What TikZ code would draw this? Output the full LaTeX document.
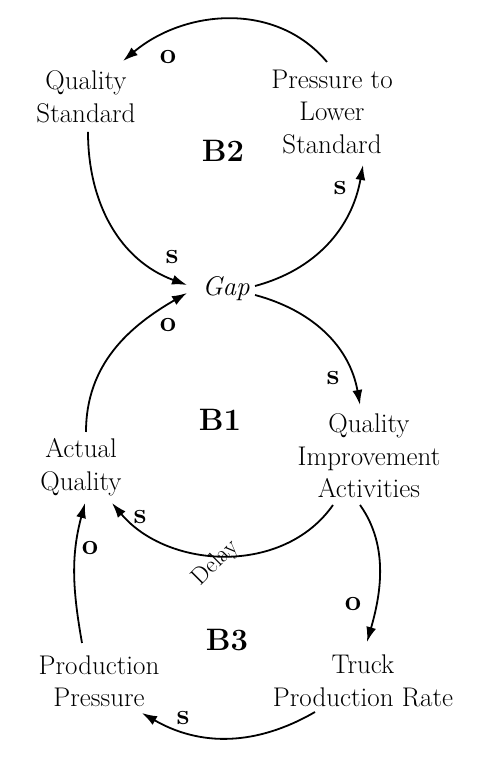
\documentclass[tikz,border=0pt]{standalone}
\usetikzlibrary{arrows.meta}
\begin{document}
\begin{tikzpicture}[x=1pt,y=1pt,
  var/.style={align=center,inner sep=0pt,font=\fontsize{27}{32.5}\selectfont},
  pol/.style={inner sep=0pt,font=\fontsize{29}{30}\selectfont\bfseries},
  loopname/.style={inner sep=0pt,font=\fontsize{31}{32}\selectfont\bfseries},
  link/.style={line width=1.8pt,-{Latex[length=15pt,width=10pt]}}]
\useasboundingbox (0,0) rectangle (496,762);
% variables
\node[var] (qs)  at (86,665)  {Quality\\Standard};
\node[var] (plw) at (332,650) {Pressure to\\Lower\\Standard};
\node[var] (gap) at (226,473) {\itshape Gap};
\node[var] (aq)  at (81,295)  {Actual\\Quality};
\node[var] (qia) at (369,306) {Quality\\Improvement\\Activities};
\node[var] (pp)  at (99,81)   {Production\\Pressure};
\node[var] (tpr) at (363,81)  {Truck\\Production Rate};
% loop names
\node[loopname] (b2) at (223,611) {B2};
\node[loopname] (b1) at (220,342) {B1};
\node[loopname] (b3) at (227,122) {B3};
% links
\draw[link] ([shift={(-5,50)}]plw.center) to[out=130,in=40] ([shift={(37,36)}]qs.center);
\draw[link] ([shift={(2,-35)}]qs.center) to[out=-90,in=160] ([shift={(-39,4)}]gap.center);
\draw[link] ([shift={(29,3)}]gap.center) to[out=15,in=-100] ([shift={(31,-53)}]plw.center);
\draw[link] ([shift={(29,-6)}]gap.center) to[out=-15,in=100] ([shift={(-9,51)}]qia.center);
\draw[link] ([shift={(5,35)}]aq.center) to[out=90,in=-150] ([shift={(-39,-4)}]gap.center);
\draw[link] ([shift={(-36,-49)}]qia.center) to[out=-125,in=-50] ([shift={(31,-36)}]aq.center);
\draw[link] ([shift={(-17,38)}]pp.center) to[out=100,in=-105] ([shift={(4,-36)}]aq.center);
\draw[link] ([shift={(-9,-49)}]qia.center) .. controls +(30,-42) and +(13,45) .. ([shift={(4,39)}]tpr.center);
\draw[link] ([shift={(-48,-31)}]tpr.center) to[out=-150,in=-30] ([shift={(43,-32)}]pp.center);
% polarities
\node[pol] (p1) at (168,705) {o};
\node[pol] (p2) at (172,505) {s};
\node[pol] (p3) at (340,574) {s};
\node[pol] (p4) at (168,437) {o};
\node[pol] (p5) at (333,384) {s};
\node[pol] (p6) at (140,245) {s};
\node[pol] (p7) at (90,214)  {o};
\node[pol] (p8) at (353,158) {o};
\node[pol] (p9) at (183,44)  {s};
\node[inner sep=0pt,rotate=45,font=\fontsize{24}{26}\selectfont] (delay) at (216,199) {Delay};
\end{tikzpicture}
\end{document}
